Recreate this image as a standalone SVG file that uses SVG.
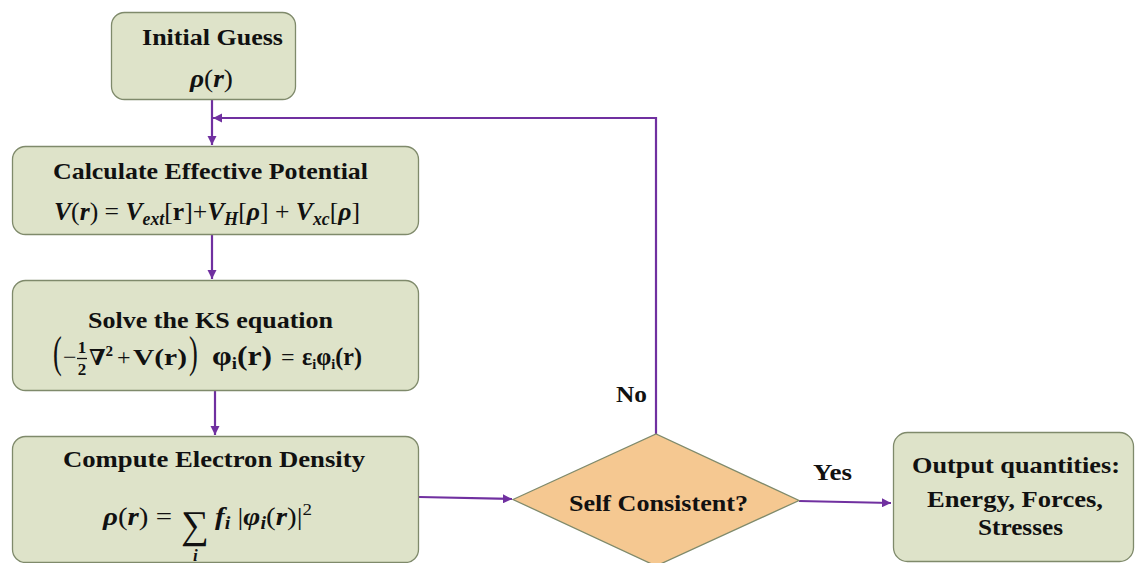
<svg xmlns="http://www.w3.org/2000/svg" width="1135" height="563" viewBox="0 0 1135 563">
<defs>
<style>
.box{fill:#DEE3C9;stroke:#7F8A6B;stroke-width:1.3}
.dia{fill:#F5C891;stroke:#7F8A6B;stroke-width:1.3}
.t{font-family:"Liberation Serif","DejaVu Serif",serif;font-weight:bold;font-size:24px;fill:#111}
.m{font-family:"Liberation Serif","DejaVu Serif",serif;font-size:26px;fill:#111}
.bi{font-weight:bold;font-style:italic}
.b{font-weight:bold}
.c{fill:none;stroke:#7030A0;stroke-width:2.2}
</style>
<marker id="ah" viewBox="0 0 10 10" refX="10" refY="5" markerWidth="4.2" markerHeight="4.2" markerUnits="strokeWidth" orient="auto">
<path d="M0,0 L10,5 L0,10 z" fill="#7030A0"/>
</marker>
</defs>

<g id="connectors">
<path class="c" d="M212,99 V145" marker-end="url(#ah)"/>
<path class="c" d="M212,234 V279" marker-end="url(#ah)"/>
<path class="c" d="M215,391 V435" marker-end="url(#ah)"/>
<path class="c" d="M419,497 L512,499" marker-end="url(#ah)"/>
<path class="c" d="M799,501 L891,503" marker-end="url(#ah)"/>
<path class="c" d="M656,434 V118 H213" marker-end="url(#ah)"/>
<text class="t" x="616" y="402" textLength="31" lengthAdjust="spacingAndGlyphs">No</text>
<text class="t" x="813" y="480" textLength="39" lengthAdjust="spacingAndGlyphs">Yes</text>
</g>

<g id="initial-guess">
<rect class="box" x="111.5" y="12.5" width="184" height="87" rx="13"/>
<text class="t" x="142" y="45" textLength="141" lengthAdjust="spacingAndGlyphs">Initial Guess</text>
<text class="m" x="190" y="87" textLength="43" lengthAdjust="spacingAndGlyphs"><tspan class="bi">ρ</tspan>(<tspan class="bi">r</tspan>)</text>
</g>

<g id="effective-potential">
<rect class="box" x="12.5" y="146.5" width="406" height="88" rx="13"/>
<text class="t" x="53" y="179" textLength="315" lengthAdjust="spacingAndGlyphs">Calculate Effective Potential</text>
<text class="m" x="54" y="220" textLength="306" lengthAdjust="spacingAndGlyphs"><tspan class="bi">V</tspan>(<tspan class="bi">r</tspan>) = <tspan class="bi">V</tspan><tspan class="bi" font-size="18" dy="5">ext</tspan><tspan dy="-5">[</tspan><tspan class="b">r</tspan>]+<tspan class="bi">V</tspan><tspan class="bi" font-size="18" dy="5">H</tspan><tspan dy="-5">[</tspan><tspan class="bi">ρ</tspan>] + <tspan class="bi">V</tspan><tspan class="bi" font-size="18" dy="5">xc</tspan><tspan dy="-5">[</tspan><tspan class="bi">ρ</tspan>]</text>
</g>

<g id="ks-equation">
<rect class="box" x="12.5" y="280.5" width="406" height="110" rx="13"/>
<text class="t" x="88" y="328" textLength="245" lengthAdjust="spacingAndGlyphs">Solve the KS equation</text>
<text class="m" x="53" y="367" style="font-size:44px" transform="translate(53 367) scale(0.6 1) translate(-53 -367)">(</text>
<text class="m" x="63" y="365" style="font-size:24px">−</text>
<text class="m b" x="82" y="353" style="font-size:17px" text-anchor="middle">1</text>
<line x1="77" y1="358.5" x2="87" y2="358.5" stroke="#111" stroke-width="1.3"/>
<text class="m b" x="82" y="375" style="font-size:17px" text-anchor="middle">2</text>
<text class="m b" x="89" y="365" style="font-size:22px">∇<tspan style="font-size:15px" dy="-9">2</tspan></text>
<text class="m" x="117" y="365" style="font-size:24px">+</text>
<text class="m b" x="133" y="365" style="font-size:24px" textLength="54" lengthAdjust="spacingAndGlyphs">V(r)</text>
<text class="m" x="189" y="367" style="font-size:44px" transform="translate(189 367) scale(0.6 1) translate(-189 -367)">)</text>
<text class="m b" x="212" y="365" style="font-size:27px" textLength="60" lengthAdjust="spacingAndGlyphs">φ<tspan style="font-size:16px" dy="4">i</tspan><tspan dy="-4">(r)</tspan></text>
<text class="m" x="281" y="365" style="font-size:24px">=</text>
<text class="m b" x="302" y="365" style="font-size:25px" textLength="60" lengthAdjust="spacingAndGlyphs">ε<tspan style="font-size:15px" dy="4">i</tspan><tspan dy="-4">φ</tspan><tspan style="font-size:15px" dy="4">i</tspan><tspan dy="-4">(r)</tspan></text>
</g>

<g id="electron-density">
<rect class="box" x="12.5" y="436.5" width="406" height="126" rx="13"/>
<text class="t" x="63" y="467" textLength="302" lengthAdjust="spacingAndGlyphs">Compute Electron Density</text>
<text class="m" x="103" y="525" textLength="69" lengthAdjust="spacingAndGlyphs"><tspan class="bi">ρ</tspan>(<tspan class="bi">r</tspan>) =</text>
<text class="m" x="181" y="538" style="font-size:39px">∑</text>
<text class="m bi" x="193" y="561" style="font-size:17px">i</text>
<text class="m" x="215" y="525" textLength="97" lengthAdjust="spacingAndGlyphs"><tspan class="bi">f</tspan><tspan class="bi" style="font-size:18px" dy="4">i</tspan><tspan dy="-4"> |</tspan><tspan class="bi">φ</tspan><tspan class="bi" style="font-size:18px" dy="4">i</tspan><tspan dy="-4">(</tspan><tspan class="bi">r</tspan>)|<tspan style="font-size:17px" dy="-10">2</tspan></text>
</g>

<g id="self-consistent">
<polygon class="dia" points="513,499.5 656,434 799,500.5 656,566"/>
<text class="t" x="569" y="511" textLength="179" lengthAdjust="spacingAndGlyphs">Self Consistent?</text>
</g>

<g id="output">
<rect class="box" x="893.5" y="432.5" width="240" height="129" rx="14"/>
<text class="t" x="912" y="473" textLength="208" lengthAdjust="spacingAndGlyphs">Output quantities:</text>
<text class="t" x="927" y="507" textLength="176" lengthAdjust="spacingAndGlyphs">Energy, Forces,</text>
<text class="t" x="978" y="535" textLength="85" lengthAdjust="spacingAndGlyphs">Stresses</text>
</g>
</svg>
